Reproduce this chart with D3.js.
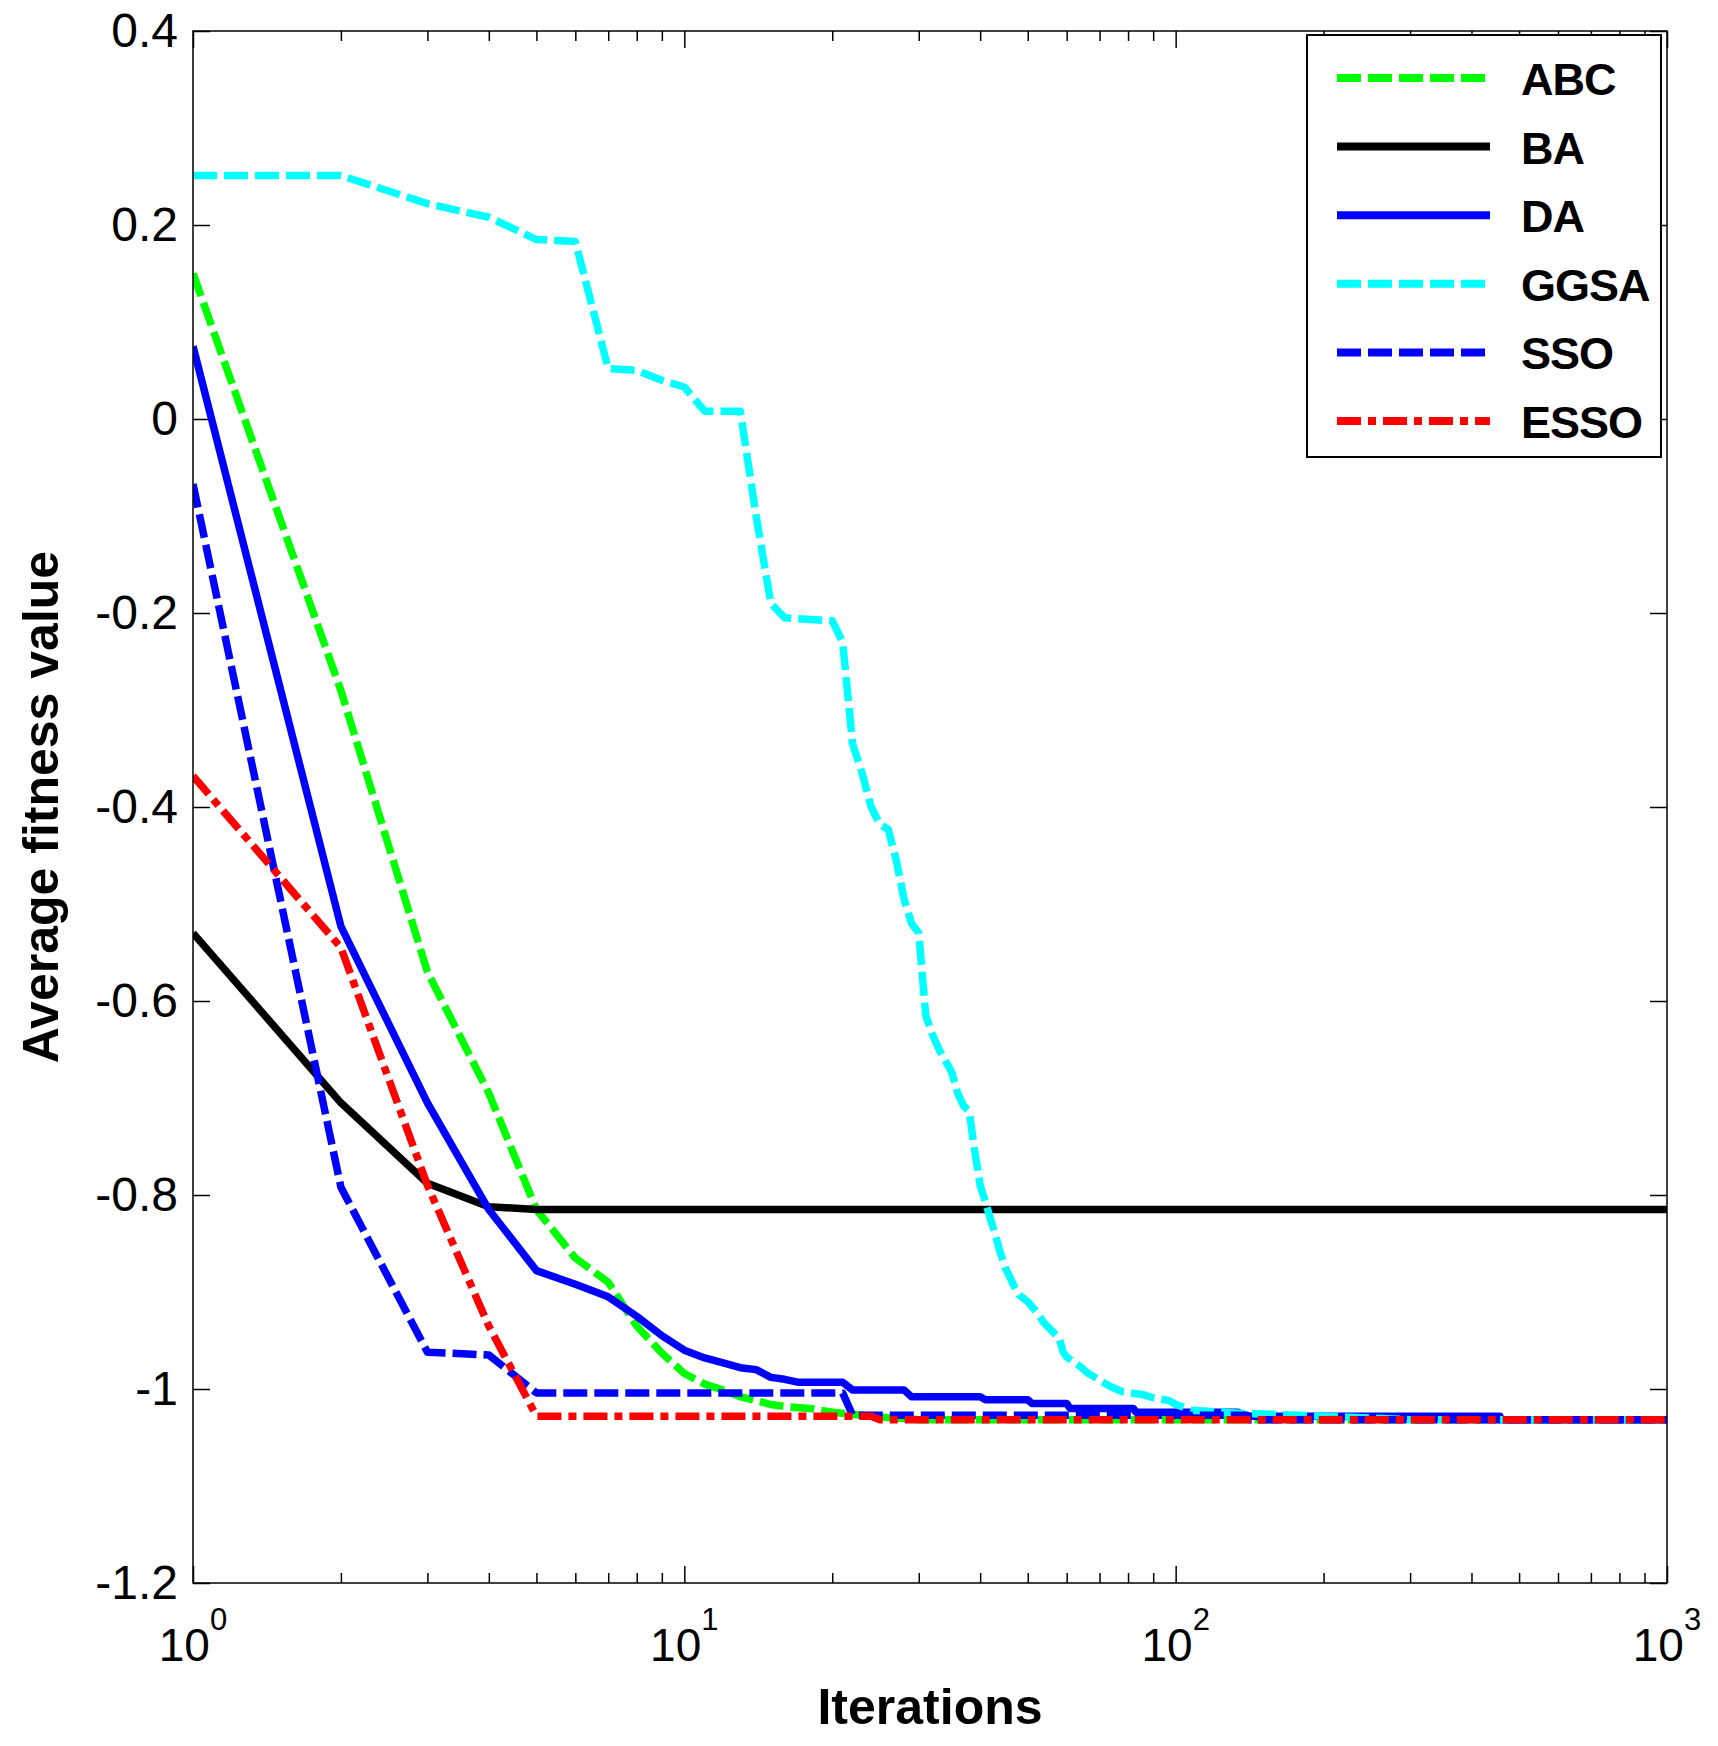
<!DOCTYPE html>
<html>
<head>
<meta charset="utf-8">
<script src="https://cdn.jsdelivr.net/npm/d3@7"></script>
<style>
  body { margin: 0; background: #fff; }
  text { font-family: "Liberation Sans", Arial, Helvetica, sans-serif; fill: #000; }
</style>
</head>
<body>
<svg id="chart"></svg>
<script>
// values (iteration, average fitness)
const abcIter = [1, 2, 3, 4, 5, 6, 7, 8, 9, 10, 11, 12, 13, 14, 15, 16, 18, 20, 25, 30, 1000];
const abcVal = [0.15, -0.28, -0.57, -0.695, -0.815, -0.865, -0.89, -0.935, -0.963, -0.984, -0.995, -1.001, -1.008, -1.012, -1.016, -1.018, -1.02, -1.024, -1.029, -1.0316, -1.0316];

const baIter = [1, 2, 3, 4, 5, 1000];
const baVal = [-0.53, -0.705, -0.788, -0.812, -0.815, -0.815];

const daIter = [1, 2, 3, 4, 5, 6, 7, 8, 9, 10, 11, 12, 13, 14, 15, 16, 17, 21, 22, 28, 29, 40, 41, 50, 51, 60, 61, 82, 83, 134, 135, 457, 458, 1000];
const daVal = [0.075, -0.523, -0.705, -0.815, -0.878, -0.892, -0.905, -0.925, -0.945, -0.96, -0.968, -0.973, -0.978, -0.98, -0.988, -0.99, -0.993, -0.993, -1.001, -1.001, -1.008, -1.008, -1.011, -1.011, -1.015, -1.015, -1.02, -1.02, -1.024, -1.024, -1.028, -1.028, -1.0316, -1.0316];

const ggsaIter = [1, 2, 3, 4, 5, 6, 7, 8, 9, 10, 11, 12, 13, 14, 15, 16, 20, 21, 22, 23, 24, 25, 26, 27, 28, 29, 30, 31, 32, 33, 34, 35, 36, 37, 38, 39, 40, 41, 42, 43, 44, 45, 46, 47, 48, 50, 52, 54, 56, 58, 59, 60, 62, 64, 66, 68, 70, 74, 78, 86, 90, 97, 100, 108, 135, 200, 300, 1000];
const ggsaVal = [0.251, 0.251, 0.222, 0.208, 0.185, 0.183, 0.052, 0.05, 0.04, 0.033, 0.008, 0.008, 0.008, -0.1, -0.19, -0.205, -0.208, -0.23, -0.335, -0.365, -0.4, -0.418, -0.423, -0.455, -0.495, -0.52, -0.53, -0.615, -0.635, -0.65, -0.662, -0.673, -0.695, -0.708, -0.714, -0.755, -0.79, -0.807, -0.825, -0.842, -0.86, -0.875, -0.885, -0.895, -0.903, -0.91, -0.92, -0.932, -0.94, -0.948, -0.962, -0.967, -0.972, -0.977, -0.983, -0.987, -0.991, -0.998, -1.003, -1.006, -1.009, -1.012, -1.016, -1.022, -1.025, -1.028, -1.0316, -1.0316];

const ssoIter = [1, 2, 3, 4, 5, 21, 22, 140, 141, 1000];
const ssoVal = [-0.067, -0.792, -0.962, -0.965, -1.004, -1.004, -1.027, -1.027, -1.0316, -1.0316];

const essoIter = [1, 2, 3, 4, 5, 24, 25, 1000];
const essoVal = [-0.368, -0.545, -0.79, -0.935, -1.028, -1.028, -1.0316, -1.0316];

const seriesNames = ["ABC", "BA", "DA", "GGSA", "SSO", "ESSO"];
const seriesColors = ["#00ff00", "#000000", "#0000ff", "#00ffff", "#0000ff", "#ff0000"];
const seriesDash = ["24,7", null, null, "24,7", "24,7", "24,7,8,7"];

const yTicks = [-1.2, -1, -0.8, -0.6, -0.4, -0.2, 0, 0.2, 0.4];
const xTicks = [1, 10, 100, 1000];

const W = 1718, H = 1746;
const L = 193, R = 1667, T = 31, B = 1583;

const svg = d3.select("#chart").attr("width", W).attr("height", H);

const x = d3.scaleLog().domain([1, 1000]).range([L, R]);
const y = d3.scaleLinear().domain([-1.2, 0.4]).range([B, T]);

const minorTicks = [];
for (let d = 1; d < 1000; d *= 10) for (let k = 2; k <= 9; k++) minorTicks.push(d * k);

svg.append("clipPath").attr("id", "plot")
  .append("rect").attr("x", L).attr("y", T).attr("width", R - L).attr("height", B - T);

// ticks on all four sides, pointing inward
const tickStyle = g => { g.select(".domain").remove(); g.selectAll("line").attr("stroke", "#000").attr("stroke-width", 1.5); };
svg.append("g").attr("transform", `translate(0,${B})`)
  .call(d3.axisBottom(x).tickValues(minorTicks).tickSize(-10).tickFormat("")).call(tickStyle);
svg.append("g").attr("transform", `translate(0,${B})`)
  .call(d3.axisBottom(x).tickValues(xTicks).tickSize(-17).tickFormat("")).call(tickStyle);
svg.append("g").attr("transform", `translate(0,${T})`)
  .call(d3.axisTop(x).tickValues(minorTicks).tickSize(-10).tickFormat("")).call(tickStyle);
svg.append("g").attr("transform", `translate(0,${T})`)
  .call(d3.axisTop(x).tickValues(xTicks).tickSize(-17).tickFormat("")).call(tickStyle);
svg.append("g").attr("transform", `translate(${R},0)`)
  .call(d3.axisRight(y).tickValues(yTicks).tickSize(-17).tickFormat("")).call(tickStyle);

const yAxis = svg.append("g").attr("transform", `translate(${L},0)`)
  .call(d3.axisLeft(y).tickValues(yTicks).tickSize(-17).tickPadding(15)
    .tickFormat(d => String(+d.toFixed(1))))
  .call(tickStyle);
yAxis.selectAll("text").attr("font-size", 48).attr("font-family", "Liberation Sans, Arial, sans-serif")
  .attr("fill", "#000").attr("dy", "0.33em");

// x tick labels as 10^k
const xl = svg.append("g").selectAll("text").data(xTicks).join("text")
  .attr("x", d => x(d)).attr("y", 1661).attr("text-anchor", "middle").attr("font-size", 46);
xl.append("tspan").text("10");
xl.append("tspan").attr("dy", -31).attr("font-size", 31).text(d => Math.round(Math.log10(d)));

// series
const series = [
  [abcIter, abcVal], [baIter, baVal], [daIter, daVal],
  [ggsaIter, ggsaVal], [ssoIter, ssoVal], [essoIter, essoVal]
].map(([it, v], i) => ({ name: seriesNames[i], pts: it.map((d, j) => [d, v[j]]) }));

const line = d3.line().x(d => x(d[0])).y(d => y(d[1]));

svg.append("g").attr("clip-path", "url(#plot)")
  .selectAll("path").data(series).join("path")
  .attr("d", d => line(d.pts))
  .attr("fill", "none")
  .attr("stroke", (d, i) => seriesColors[i])
  .attr("stroke-width", 7.5)
  .attr("stroke-linejoin", "round")
  .attr("stroke-dasharray", (d, i) => seriesDash[i]);

// frame
svg.append("rect").attr("x", L).attr("y", T).attr("width", R - L).attr("height", B - T)
  .attr("fill", "none").attr("stroke", "#000").attr("stroke-width", 1.5);

// legend
const lg = svg.append("g");
lg.append("rect").attr("x", 1307).attr("y", 35).attr("width", 354).attr("height", 422)
  .attr("fill", "#fff").attr("stroke", "#000").attr("stroke-width", 2);
const items = lg.selectAll("g.item").data(seriesNames).join("g")
  .attr("transform", (d, i) => `translate(0,${78 + i * 68.6})`);
items.append("line").attr("x1", 1337).attr("x2", 1490)
  .attr("stroke", (d, i) => seriesColors[i]).attr("stroke-width", 8)
  .attr("stroke-dasharray", (d, i) => seriesDash[i]);
items.append("text").attr("x", 1521).attr("y", 17).attr("font-size", 45)
  .attr("font-weight", "bold").attr("letter-spacing", -1).text(d => d);

// axis titles
svg.append("text").attr("x", (L + R) / 2).attr("y", 1724).attr("text-anchor", "middle")
  .attr("font-size", 50).attr("font-weight", "bold").text("Iterations");
svg.append("text").attr("transform", `translate(58,${(T + B) / 2}) rotate(-90)`)
  .attr("text-anchor", "middle").attr("font-size", 50).attr("font-weight", "bold")
  .text("Average fitness value");
</script>
</body>
</html>
